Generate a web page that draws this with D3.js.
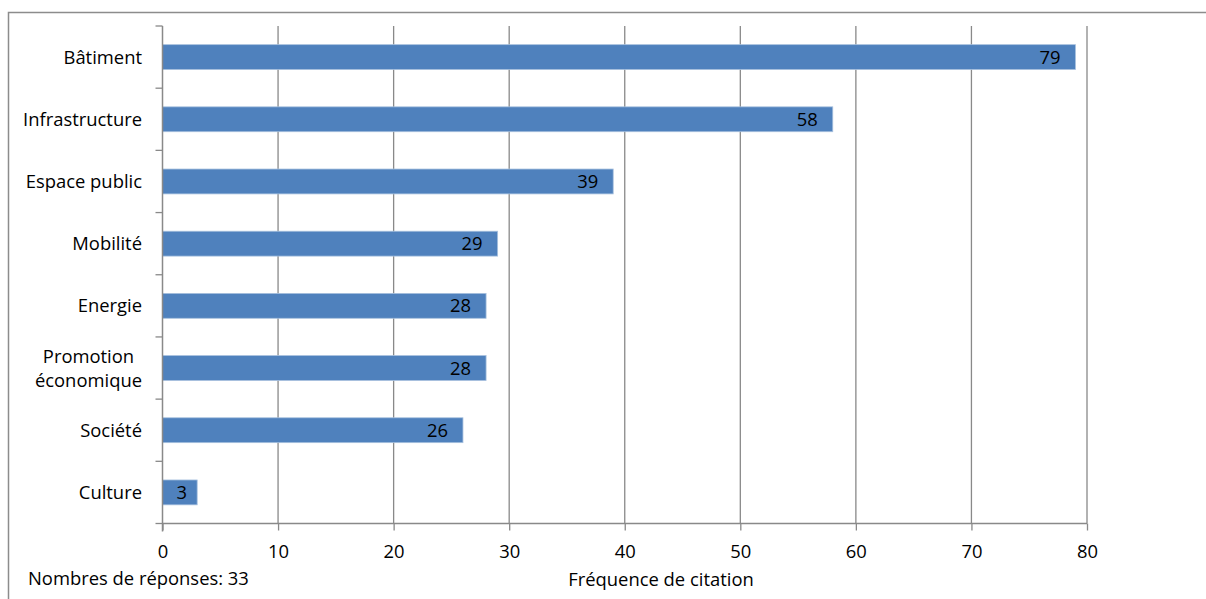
<!DOCTYPE html>
<html>
<head>
<meta charset="utf-8">
<script src="https://cdn.jsdelivr.net/npm/d3@7"></script>
<style>
  body { margin: 0; background: #fff; }
  svg text { font-family: "Open Sans", Lato, sans-serif; fill: #000; }
</style>
</head>
<body>
<svg id="chart" width="1206" height="599"></svg>
<script>
// Data
var categories = ["Bâtiment", "Infrastructure", "Espace public", "Mobilité", "Energie", "Promotion\néconomique", "Société", "Culture"];
var values     = [79, 58, 39, 29, 28, 28, 26, 3];
var xTicks     = [0, 10, 20, 30, 40, 50, 60, 70, 80];
var xTitle     = "Fréquence de citation";
var note       = "Nombres de réponses: 33";

var data = categories.map(function(c, i) { return { name: c, value: values[i] }; });

var svg = d3.select("#chart");
var fontSize = 18.4;
var gridColor = "#898989";

// Outer frame
svg.append("rect")
  .attr("x", 8.5).attr("y", 12.5)
  .attr("width", 1210).attr("height", 600)
  .attr("fill", "none").attr("stroke", "#8c8c8c").attr("stroke-width", 1.5);

// Scales
var x = d3.scaleLinear().domain([0, 80]).range([162.5, 1087]);
var y = d3.scaleBand().domain(categories).range([26, 523.5]).padding(0);

// Vertical grid
svg.append("g").selectAll("line.grid")
  .data(xTicks.slice(1))
  .enter().append("line")
  .attr("class", "grid")
  .attr("x1", function(d) { return x(d); })
  .attr("x2", function(d) { return x(d); })
  .attr("y1", y.range()[0])
  .attr("y2", y.range()[1])
  .attr("stroke", gridColor).attr("stroke-width", 1.3);

// Bars
var barH = y.bandwidth() * 0.4;
var bars = svg.append("g").selectAll("g.bar")
  .data(data)
  .enter().append("g").attr("class", "bar");

bars.append("rect")
  .attr("x", x(0))
  .attr("y", function(d) { return y(d.name) + (y.bandwidth() - barH) / 2; })
  .attr("width", function(d) { return x(d.value) - x(0); })
  .attr("height", barH)
  .attr("fill", "#4f81bd")
  .attr("stroke", "#a7c0de").attr("stroke-width", 0.8);

// Value labels, inside end
bars.append("text")
  .attr("font-size", fontSize)
  .attr("y", function(d) { return y(d.name) + y.bandwidth() / 2; })
  .attr("dy", "0.36em")
  .text(function(d) { return d.value; })
  .each(function(d) {
    var w = this.getComputedTextLength();
    var end = x(d.value);
    var t = d3.select(this);
    if (end - x(0) < w + 32) {
      t.attr("text-anchor", "middle").attr("x", x(0) + (end - x(0)) / 2 + 2);
    } else {
      t.attr("text-anchor", "end").attr("x", end - 15);
    }
  });

// X axis
var xAxis = d3.axisBottom(x).tickValues(xTicks).tickSize(7).tickPadding(14);
var gx = svg.append("g")
  .attr("transform", "translate(0," + y.range()[1] + ")")
  .call(xAxis);
gx.select(".domain").attr("stroke", gridColor).attr("stroke-width", 1.5).attr("d", "M" + x(0) + ",0H" + x(80));
gx.selectAll(".tick line").attr("stroke", gridColor).attr("stroke-width", 1.3);
gx.selectAll(".tick text").attr("font-size", fontSize).attr("font-family", null).attr("fill", "#000");

// Y axis
var yAxis = d3.axisLeft(y).tickSize(0).tickFormat("");
var gy = svg.append("g")
  .attr("transform", "translate(" + x(0) + ",0)")
  .call(yAxis);
gy.select(".domain").attr("stroke", gridColor).attr("stroke-width", 1.5).attr("d", "M0," + (y.range()[0]) + "V" + (y.range()[1] + 8));

// Y ticks at band boundaries
var bounds = categories.map(function(c) { return y(c); }).concat([y.range()[1]]);
gy.selectAll("line.btick")
  .data(bounds)
  .enter().append("line")
  .attr("class", "btick")
  .attr("x1", -7).attr("x2", 0)
  .attr("y1", function(d) { return d; })
  .attr("y2", function(d) { return d; })
  .attr("stroke", gridColor).attr("stroke-width", 1.3);

// Category labels (multi-line centred block, right aligned)
var lineH = 24;
svg.append("g").selectAll("text.cat")
  .data(categories)
  .enter().append("text")
  .attr("class", "cat")
  .attr("font-size", fontSize)
  .each(function(c) {
    var t = d3.select(this);
    var lines = c.split("\n");
    var cy = y(c) + y.bandwidth() / 2;
    var y0 = cy - (lines.length - 1) * lineH / 2;
    if (lines.length === 1) {
      t.attr("text-anchor", "end").attr("x", 142).attr("y", cy).attr("dy", "0.36em").text(c);
    } else {
      t.attr("text-anchor", "middle");
      var spans = lines.map(function(l, i) {
        return t.append("tspan").attr("y", y0 + i * lineH).attr("dy", "0.36em").text(l);
      });
      var maxW = d3.max(spans, function(s) { return s.node().getComputedTextLength(); });
      spans.forEach(function(s) { s.attr("x", 142 - maxW / 2); });
    }
  });

// Axis title and note
svg.append("text")
  .attr("x", 661).attr("y", 586)
  .attr("text-anchor", "middle")
  .attr("font-size", fontSize)
  .text(xTitle);

svg.append("text")
  .attr("x", 28).attr("y", 585)
  .attr("font-size", fontSize)
  .text(note);
</script>
</body>
</html>
